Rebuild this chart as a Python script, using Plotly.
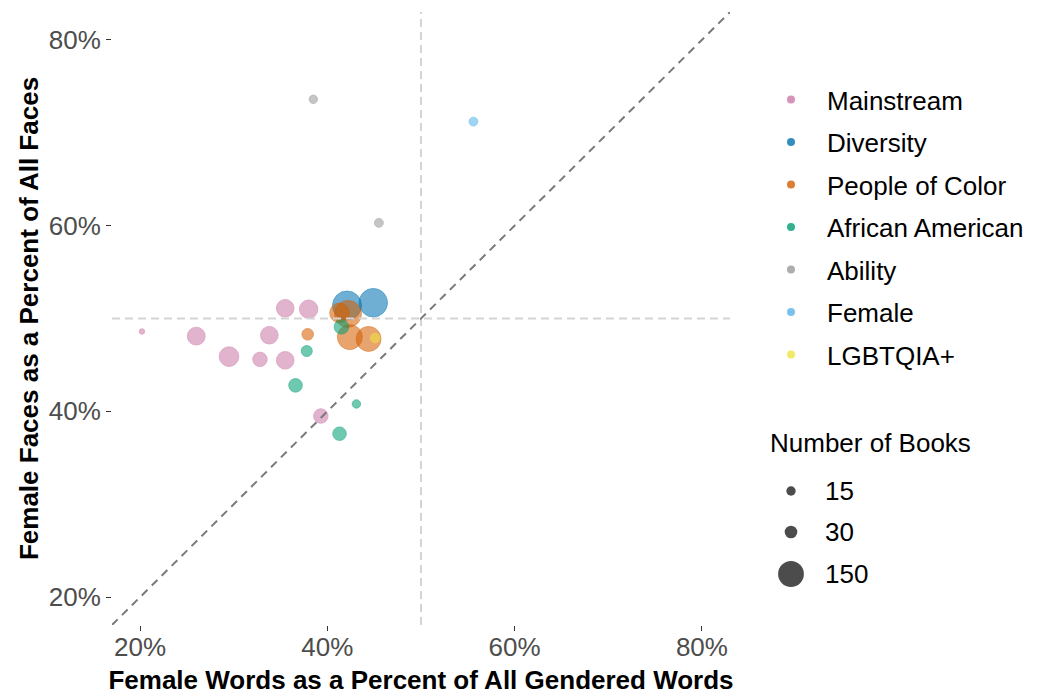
import math
import plotly.graph_objects as go

# ---------------- data ----------------
categories = ["Mainstream", "Diversity", "People of Color", "African American",
              "Ability", "Female", "LGBTQIA+"]
palette = ["#CC79A7", "#0072B2", "#D55E00", "#009E73", "#999999", "#56B4E9", "#F0E442"]

# female words % (x), female faces % (y), number of books (size)
mainstream_words = [20.2, 26.0, 29.5, 32.8, 33.8, 35.5, 35.5, 38.0, 39.3]
mainstream_faces = [48.6, 48.1, 45.9, 45.6, 48.2, 45.5, 51.1, 51.0, 39.5]
mainstream_books = [6, 75, 92, 48, 73, 73, 73, 80, 48]

diversity_words = [42.1, 44.9]
diversity_faces = [51.4, 51.7]
diversity_books = [207, 200]

poc_words = [37.9, 41.3, 42.2, 42.4, 44.4]
poc_faces = [48.3, 50.6, 50.5, 48.0, 47.8]
poc_books = [30, 92, 178, 151, 151]

afam_words = [37.8, 36.6, 43.1, 41.3, 41.5]
afam_faces = [46.5, 42.8, 40.8, 37.6, 49.1]
afam_books = [27, 42, 15, 42, 48]

ability_words = [38.5, 45.5]
ability_faces = [73.6, 60.3]
ability_books = [15, 17]

female_words = [55.6]
female_faces = [71.2]
female_books = [17]

lgbt_words = [45.1]
lgbt_faces = [47.9]
lgbt_books = [20]

size_breaks = [15, 30, 150]
tick_vals = [20, 40, 60, 80]
tick_text = ["20%", "40%", "60%", "80%"]
axis_limits = [20, 80]

series = [
    (mainstream_words, mainstream_faces, mainstream_books),
    (diversity_words, diversity_faces, diversity_books),
    (poc_words, poc_faces, poc_books),
    (afam_words, afam_faces, afam_books),
    (ability_words, ability_faces, ability_books),
    (female_words, female_faces, female_books),
    (lgbt_words, lgbt_faces, lgbt_books),
]

# ---------------- styling helpers ----------------
ALPHA = 0.8
FONT = "Arial, Liberation Sans, sans-serif"
FS = 26


def rgba(hexcol, a):
    h = hexcol.lstrip("#")
    r, g, b = int(h[0:2], 16), int(h[2:4], 16), int(h[4:6], 16)
    return f"rgba({r},{g},{b},{a})"


def diameter(books):
    # ggplot-like area scale (radius ~ sqrt of count)
    return 2 * (1.07 + 0.97 * math.sqrt(max(books - 1, 0)))


span = axis_limits[1] - axis_limits[0]
rng = [axis_limits[0] - 0.05 * span, axis_limits[1] + 0.05 * span]

# page body has an 8px margin; figure sized to fill the 1040x696 window
OFF = 8
W, H = 1040 - OFF, 696 - OFF
PL, PR, PT, PB = 112, 730, 12, 625          # plot area in window pixels
ML, MT = PL - OFF, PT - OFF
MR, MB = 1040 - PR, 696 - PB
PW, PH = PR - PL, PB - PT


def px2x(px):
    return (px - PL) / PW


def px2y(py):
    return (PB - py) / PH


fig = go.Figure()

for name, col, (xs, ys, bs) in zip(categories, palette, series):
    fig.add_trace(go.Scatter(
        x=xs, y=ys, mode="markers", name=name, showlegend=False,
        marker=dict(size=[diameter(b) - 1 for b in bs], color=rgba(col, ALPHA),
                    line=dict(color=rgba(col, ALPHA), width=1)),
        hovertemplate=name + "<br>%{x:.1f}%, %{y:.1f}%<extra></extra>",
    ))

# legend-only entries for colour
for i, (name, col) in enumerate(zip(categories, palette)):
    fig.add_trace(go.Scatter(
        x=[None], y=[None], mode="markers", name=name, legendgroup=f"g{i}",
        marker=dict(size=8, color=rgba(col, ALPHA)), showlegend=True,
    ))

# reference lines
line_light = dict(color="#d4d4d4", width=2, dash="8px,5px")
fig.add_shape(type="line", xref="x", yref="paper", x0=50, x1=50, y0=0, y1=1, line=line_light)
fig.add_shape(type="line", xref="paper", yref="y", x0=0, x1=1, y0=50, y1=50, line=line_light)
fig.add_shape(type="line", xref="x", yref="y", x0=rng[0], y0=rng[0], x1=rng[1], y1=rng[1],
              line=dict(color="#7a7a7a", width=2, dash="8px,6px"))

# size legend (drawn manually)
size_rows_y = [491, 532, 574]
annotations = [dict(text="Number of Books", xref="paper", yref="paper",
                    x=px2x(768), y=px2y(443), xanchor="left", yanchor="middle",
                    showarrow=False, font=dict(size=FS, color="#000000", family=FONT))]
for b, py in zip(size_breaks, size_rows_y):
    d = diameter(b)
    fig.add_shape(type="circle", xref="paper", yref="paper",
                  xsizemode="pixel", ysizemode="pixel",
                  xanchor=px2x(791), yanchor=px2y(py),
                  x0=-d / 2, x1=d / 2, y0=-d / 2, y1=d / 2,
                  fillcolor="rgba(0,0,0,0.7)", line=dict(width=0))
    annotations.append(dict(text=str(b), xref="paper", yref="paper",
                            x=px2x(823), y=px2y(py), xanchor="left", yanchor="middle",
                            showarrow=False, font=dict(size=FS, color="#000000", family=FONT)))

axis_common = dict(
    range=rng, tickvals=tick_vals, ticktext=tick_text, showgrid=False, zeroline=False,
    showline=False, ticks="outside", ticklen=5, tickwidth=1, tickcolor="#333333",
    tickfont=dict(size=FS, color="#4d4d4d", family=FONT), automargin=False,
)

fig.update_layout(
    width=W, height=H,
    margin=dict(l=ML, r=MR, t=MT, b=MB),
    paper_bgcolor="white", plot_bgcolor="white",
    font=dict(family=FONT),
    xaxis=dict(axis_common, ticklabelstandoff=-6,
               title=dict(text="<b>Female Words as a Percent of All Gendered Words</b>",
                          font=dict(size=FS, color="#000000", family=FONT), standoff=9)),
    yaxis=dict(axis_common,
               title=dict(text="<b>Female Faces as a Percent of All Faces</b>",
                          font=dict(size=FS, color="#000000", family=FONT), standoff=2)),
    legend=dict(x=px2x(755), y=px2y(76), xanchor="left", yanchor="top",
                font=dict(size=FS, color="#000000", family=FONT),
                itemsizing="trace", itemwidth=62, tracegroupgap=5.7, bgcolor="rgba(0,0,0,0)"),
    annotations=annotations,
    showlegend=True,
)

fig.write_html("out.html")
